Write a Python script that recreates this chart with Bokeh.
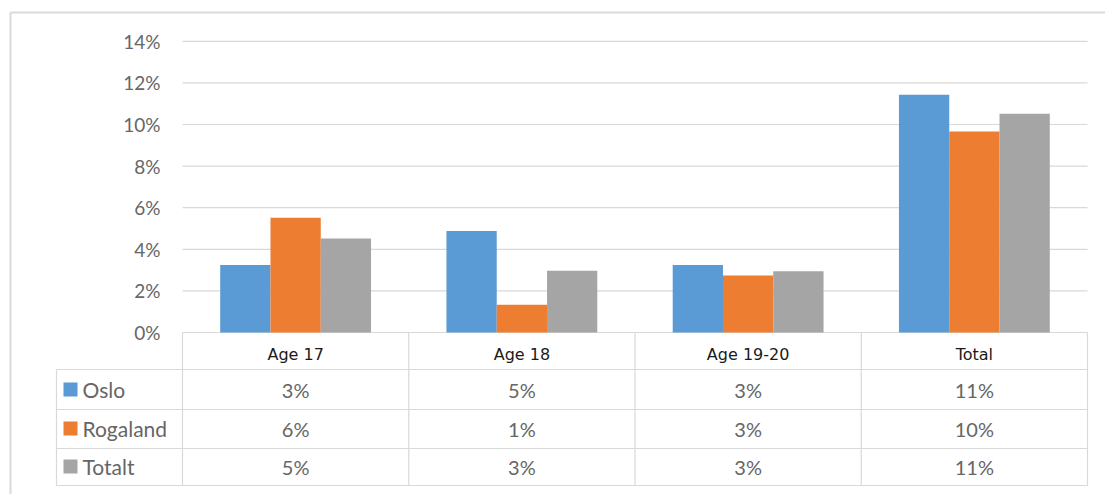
from bokeh.plotting import figure
from bokeh.models import Range1d
from bokeh.core.properties import value
from bokeh.embed import file_html
from bokeh.resources import INLINE

# ---------------- data ----------------
categories = ["Age 17", "Age 18", "Age 19-20", "Total"]
series_names = ["Oslo", "Rogaland", "Totalt"]
oslo = [3.25, 4.88, 3.25, 11.43]
rogaland = [5.52, 1.33, 2.74, 9.66]
totalt = [4.52, 2.97, 2.95, 10.52]
oslo_labels = ["3%", "5%", "3%", "11%"]
rogaland_labels = ["6%", "1%", "3%", "10%"]
totalt_labels = ["5%", "3%", "3%", "11%"]
y_ticks = [0, 2, 4, 6, 8, 10, 12, 14]
y_tick_labels = ["0%", "2%", "4%", "6%", "8%", "10%", "12%", "14%"]

# ---------------- style / layout ----------------
colors = ["#5B9BD5", "#ED7D31", "#A5A5A5"]
W, H = 1105, 494
PL, PR, PZERO, PX_PER_PCT = 182.0, 1087.0, 332.0, 20.8
CAT_PX = (PR - PL) / len(categories)
FONT = "Lato"
TXT = "#666666"
GRID = "#D9D9D9"


def X(px):
    return (px - PL) / CAT_PX


def Y(py):
    return (PZERO - py) / PX_PER_PCT


p = figure(width=W, height=H, output_backend="svg", toolbar_location=None,
           x_range=Range1d(X(0), X(W)), y_range=Range1d(Y(H), Y(0)),
           x_axis_location=None, y_axis_location=None, min_border=0)
p.grid.visible = False
p.outline_line_color = None
p.background_fill_color = "white"
p.border_fill_color = "white"

# outer chart border
p.segment(x0=[X(10), X(10)], y0=[Y(12), Y(12)], x1=[X(10), X(W)], y1=[Y(H), Y(12)],
          line_color="#D9D9D9", line_width=2)

# gridlines
ncat = len(categories)
p.segment(x0=[0] * len(y_ticks), x1=[ncat] * len(y_ticks), y0=y_ticks, y1=y_ticks,
          line_color=GRID, line_width=1.2)

# y tick labels
p.text(x=[X(160)] * len(y_ticks), y=y_ticks, text=y_tick_labels,
       text_align="right", text_baseline="middle", text_color=TXT,
       text_font=value(FONT), text_font_size="19px")

# bars
bw = 1.0 / 4.5
series_vals = [oslo, rogaland, totalt]
for k, (vals, col) in enumerate(zip(series_vals, colors)):
    xs = [i + 0.5 + (k - 1) * bw for i in range(ncat)]
    p.vbar(x=xs, width=bw, top=vals, bottom=0, fill_color=col, line_color=None)

# ---------------- data table ----------------
row_lines_px = [369, 409, 448, 485]
row_centers_px = [389, 428, 466]
header_center_px = 354
# vertical lines of table
p.segment(x0=list(range(ncat + 1)), x1=list(range(ncat + 1)),
          y0=[0] * (ncat + 1), y1=[Y(485)] * (ncat + 1), line_color=GRID, line_width=1.2)
p.segment(x0=[X(56)], x1=[X(56)], y0=[Y(369)], y1=[Y(485)], line_color=GRID, line_width=1.2)
# horizontal lines
p.segment(x0=[X(56)] * len(row_lines_px), x1=[ncat] * len(row_lines_px),
          y0=[Y(v) for v in row_lines_px], y1=[Y(v) for v in row_lines_px],
          line_color=GRID, line_width=1.2)

# header
p.text(x=[i + 0.5 for i in range(ncat)], y=[Y(header_center_px)] * ncat, text=categories,
       text_align="center", text_baseline="middle", text_color="#1a1a1a",
       text_font=value("DejaVu Sans"), text_font_size="16px")

# rows
row_labels = [oslo_labels, rogaland_labels, totalt_labels]
for r, (name, labels, col) in enumerate(zip(series_names, row_labels, colors)):
    yc = Y(row_centers_px[r])
    p.scatter(x=[X(70)], y=[yc], marker="square", size=14, fill_color=col, line_color=None)
    p.text(x=[X(82)], y=[yc], text=[name], text_align="left", text_baseline="middle",
           text_color=TXT, text_font=value(FONT), text_font_size="21px")
    p.text(x=[i + 0.5 for i in range(ncat)], y=[yc] * ncat, text=labels,
           text_align="center", text_baseline="middle", text_color=TXT,
           text_font=value(FONT), text_font_size="20px")

open("out.html", "w").write(file_html(p, INLINE))
